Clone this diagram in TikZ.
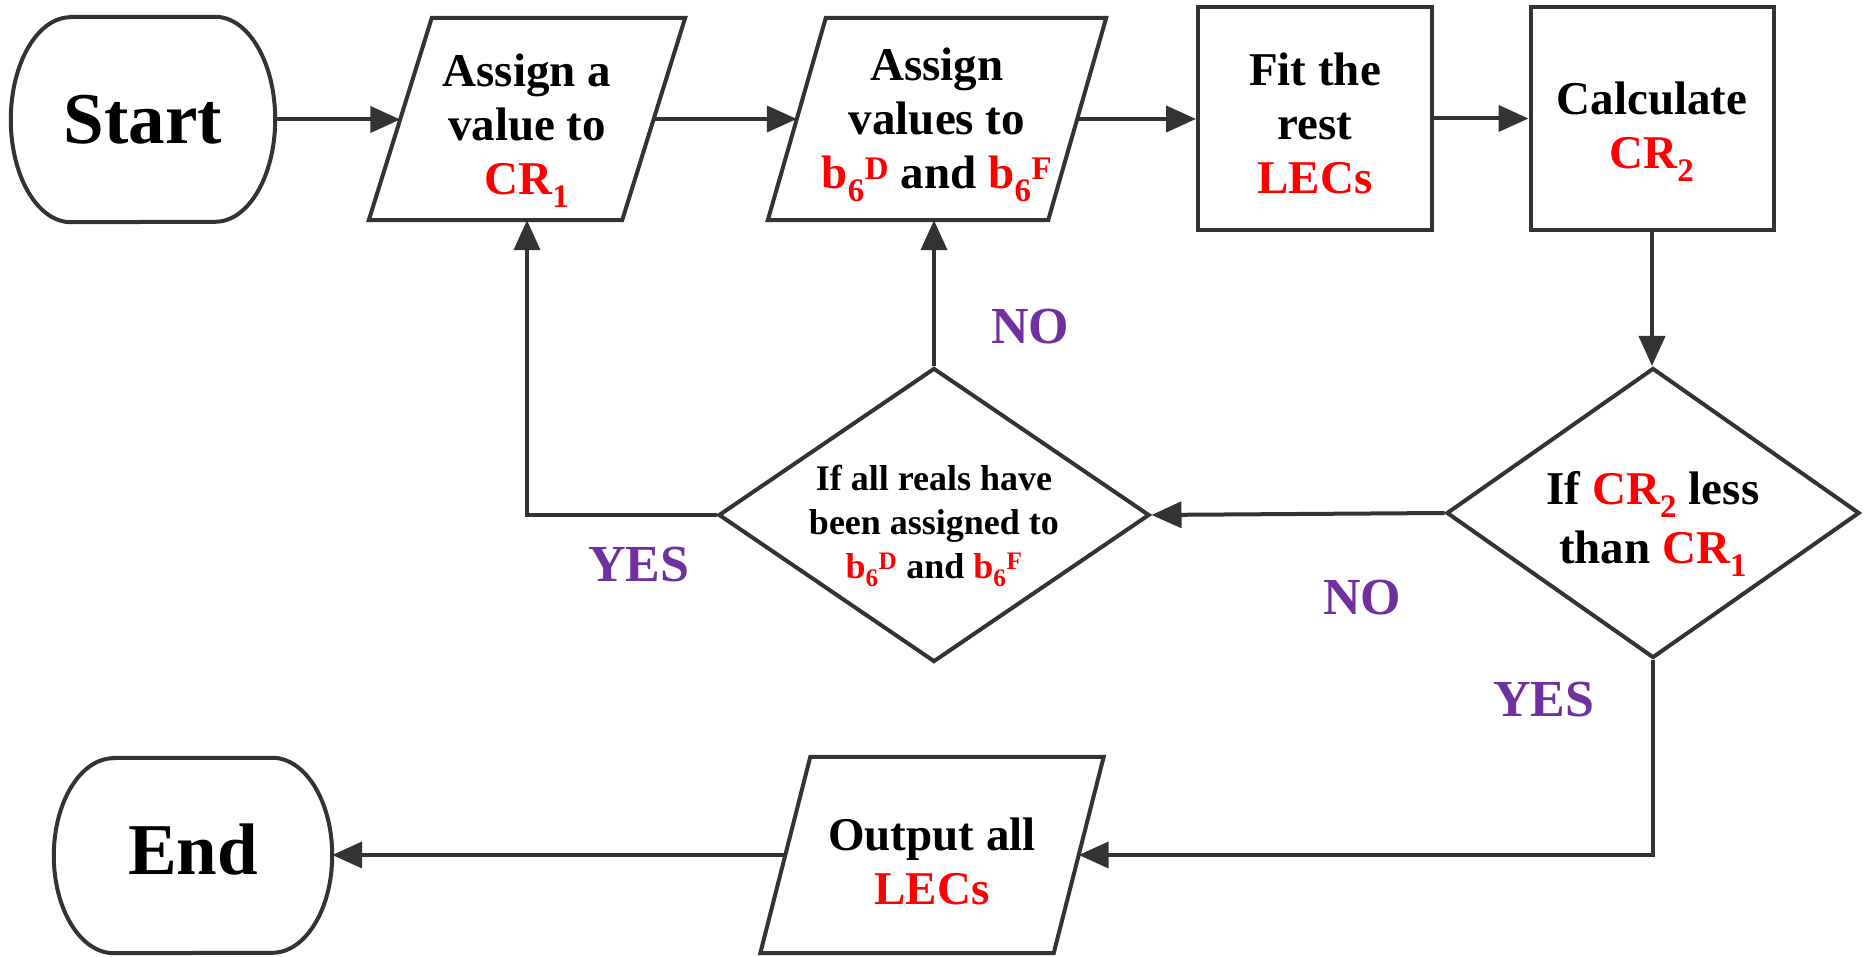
\documentclass[tikz,border=0pt]{standalone}
\usepackage{fontspec}
\setmainfont{Liberation Serif}
\usetikzlibrary{shapes.geometric,arrows.meta}
\definecolor{lc}{HTML}{333333}
\definecolor{rd}{HTML}{FF0000}
\definecolor{pp}{HTML}{7030A0}
\newcommand\rt[1]{\textcolor{rd}{#1}}
\newcommand\drawterm[2]{\draw[line] ([xshift=60pt]#1.north west) -- ([xshift=-60pt]#1.north east)
  arc[start angle=90,end angle=0,x radius=60pt,y radius=#2pt]
  arc[start angle=0,end angle=-90,x radius=60pt,y radius=#2pt]
  -- ([xshift=60pt]#1.south west)
  arc[start angle=270,end angle=180,x radius=60pt,y radius=#2pt]
  arc[start angle=180,end angle=90,x radius=60pt,y radius=#2pt] -- cycle;}
\newcommand\drawpara[2]{\draw[line,line join=miter] ([xshift=-#2pt]#1.south west) -- ([xshift=-#2pt]#1.south east) -- ([xshift=#2pt]#1.north east) -- ([xshift=#2pt]#1.north west) -- cycle;}
\begin{document}
\begin{tikzpicture}[x=1pt,y=1pt,
  line/.style={draw=lc,line width=4pt},
  arr/.style={draw=lc,line width=4pt,-{Triangle[length=30pt,width=26pt]}},
  shp/.style={inner sep=0pt},
  txt/.style={font=\bfseries\fontsize{47}{54}\selectfont,align=center,inner sep=0pt},
  big/.style={font=\bfseries\fontsize{73}{80}\selectfont,inner sep=0pt},
  small/.style={font=\bfseries\fontsize{36}{44}\selectfont,align=center,inner sep=0pt},
  lab/.style={font=\bfseries\fontsize{52}{60}\selectfont,text=pp,inner sep=0pt},
  dia/.style={diamond,draw=lc,line width=4pt,inner sep=0pt}]
\useasboundingbox (0,0) rectangle (1866,956);

% top row
\node[shp,minimum width=264pt,minimum height=205pt] (start) at (143,836.5) {};
\drawterm{start}{102.5}
\node[big] (startt) at (start) {Start};
\node[shp,minimum width=253pt,minimum height=202pt] (p1) at (527,837) {};
\drawpara{p1}{31.5}
\node[txt] (p1t) at ([yshift=-12pt]p1.center) {Assign a\\value to\\\rt{CR\textsubscript{1}}};
\node[shp,minimum width=280pt,minimum height=202pt] (p2) at (937,837) {};
\drawpara{p2}{29}
\node[txt] (p2t) at ([yshift=-6pt]p2.center) {Assign\\values to\\\rt{b\textsubscript{6}\textsuperscript{D}} and \rt{b\textsubscript{6}\textsuperscript{F}}};
\node[shp,draw=lc,line width=4pt,minimum width=234pt,minimum height=223pt] (fit) at (1315,837.5) {};
\node[txt] (fitt) at ([yshift=-5pt]fit.center) {Fit the\\rest\\\rt{LECs}};
\node[shp,draw=lc,line width=4pt,minimum width=243pt,minimum height=223pt] (calc) at (1652,837.5) {};
\node[txt] (calct) at ([yshift=-13pt]calc.center) {Calculate\\\rt{CR\textsubscript{2}}};

% diamonds
\node[dia,minimum width=413pt,minimum height=290pt] (d1) at (1653,443) {};
\node[txt,font=\bfseries\fontsize{47}{59}\selectfont] (d1t) at ([yshift=-11pt]d1.center) {If \rt{CR\textsubscript{2}} less\\than \rt{CR\textsubscript{1}}};
\node[dia,minimum width=431pt,minimum height=294pt] (d2) at (934,441) {};
\node[small] (d2t) at ([yshift=-11pt]d2.center) {If all reals have\\been assigned to\\\rt{b\textsubscript{6}\textsuperscript{D}} and \rt{b\textsubscript{6}\textsuperscript{F}}};

% bottom row
\node[shp,minimum width=293pt,minimum height=196pt] (p3) at (932,101) {};
\drawpara{p3}{25}
\node[txt] (p3t) at ([yshift=-6pt]p3.center) {Output all\\\rt{LECs}};
\node[shp,minimum width=278pt,minimum height=195pt] (end) at (193,100.5) {};
\drawterm{end}{97.5}
\node[big] (endt) at ([yshift=6pt]end.center) {End};

% connectors
\draw[arr] (start.east) -- (start.east -| p1.west);
\draw[arr] (p1.east) -- (p1.east -| p2.west);
\draw[arr] (p2.east) -- (p2.east -| fit.west);
\draw[arr] (fit.east) -- (fit.east -| calc.west);
\draw[arr] (calc.south) -- (calc.south |- d1.north);
\draw[arr] (d1.west) -- (d2.east);
\draw[arr] (d2.north) -- (d2.north |- p2.south);
\draw[arr] (d2.west) -| (p1.south);
\draw[arr] (d1.south) |- (p3.east);
\draw[arr] (p3.west) -- (p3.west -| end.east);

% labels
\node[lab] (no1) at (1030,629) {NO};
\node[lab] (yes1) at (639,391) {YES};
\node[lab] (no2) at (1362,358) {NO};
\node[lab] (yes2) at (1544,256) {YES};
\end{tikzpicture}
\end{document}
